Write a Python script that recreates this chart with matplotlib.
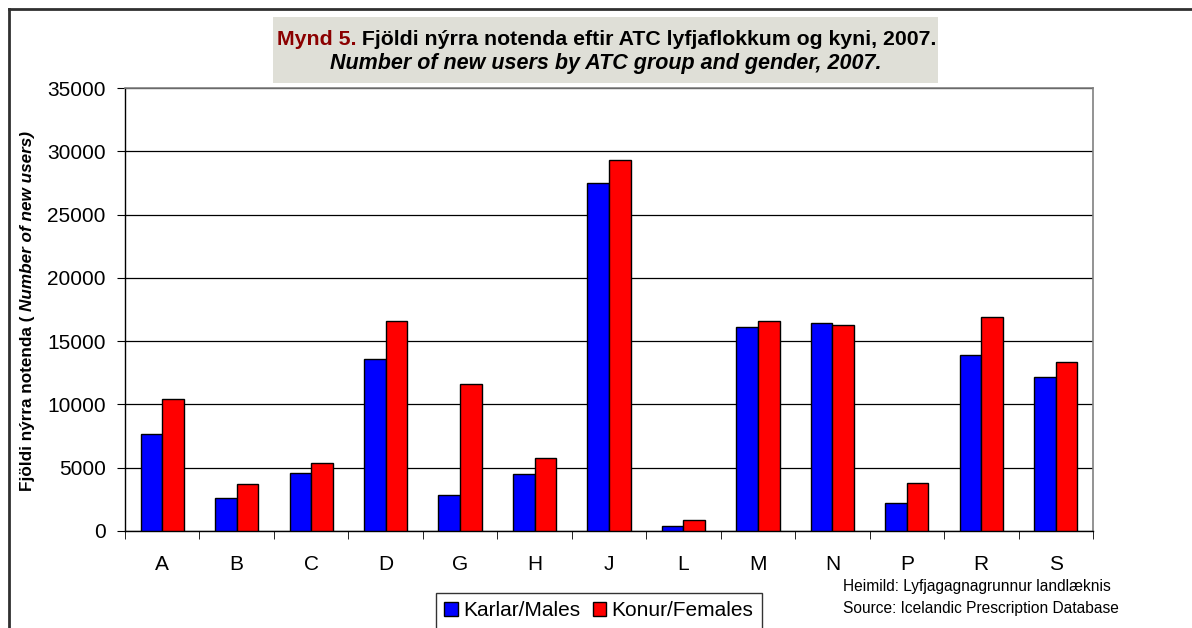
import numpy as np
import matplotlib
matplotlib.use('Agg')
import matplotlib.pyplot as plt
from matplotlib.patches import Rectangle
from matplotlib.lines import Line2D

plt.rcParams['font.family'] = ['Liberation Sans', 'DejaVu Sans']

# Data
groups = ['A', 'B', 'C', 'D', 'G', 'H', 'J', 'L', 'M', 'N', 'P', 'R', 'S']
males = [7680, 2600, 4600, 13600, 2820, 4520, 27500, 400, 16090, 16410, 2210, 13930, 12170]
females = [10430, 3690, 5350, 16580, 11590, 5770, 29320, 870, 16600, 16300, 3820, 16940, 13350]
y_ticks = [0, 5000, 10000, 15000, 20000, 25000, 30000, 35000]

W, H = 1192, 628
fig = plt.figure(figsize=(W / 100, H / 100), dpi=100)

# axes placed in pixel terms of the reference
left, right, top, bottom = 125, 1093, 88, 531
ax = fig.add_axes([left / W, 1 - bottom / H, (right - left) / W, (bottom - top) / H])

x = np.arange(len(groups))
bw = 0.29
ax.bar(x - bw / 2, males, bw, color='#0000FF', edgecolor='black', linewidth=1, label='Karlar/Males', zorder=3)
ax.bar(x + bw / 2, females, bw, color='#FF0000', edgecolor='black', linewidth=1, label='Konur/Females', zorder=3)

ax.set_xlim(-0.5, len(groups) - 0.5)
ax.set_ylim(0, 35000)
ax.set_yticks(y_ticks)
ax.set_yticklabels([str(v) for v in y_ticks], fontsize=15)
ax.yaxis.grid(True, color='black', linewidth=0.9, zorder=0)
ax.set_axisbelow(True)

ax.set_xticks(x)
ax.set_xticklabels(groups, fontsize=15)
ax.set_xticks(np.arange(-0.5, len(groups)), minor=True)
ax.tick_params(axis='x', which='major', length=0, pad=17)
ax.tick_params(axis='x', which='minor', length=6, direction='out', color='black')
ax.tick_params(axis='y', length=6, direction='out', pad=8, color='black')

for s in ['left', 'bottom']:
    ax.spines[s].set_color('black')
    ax.spines[s].set_linewidth(1)
for s in ['top', 'right']:
    ax.spines[s].set_color('#808080')
    ax.spines[s].set_linewidth(1.2)

# y label: bold part + bold italic part
yl1 = fig.text(28 / W, 1 - 491 / H, 'Fjöldi nýrra notenda ( ', rotation=90,
               ha='center', va='bottom', fontsize=12.3, fontweight='bold')
ax.annotate('Number of new users)', xy=(0.5, 1), xycoords=yl1, rotation=90,
            ha='center', va='bottom', fontsize=12.3, fontweight='bold', style='italic',
            annotation_clip=False)

# title box (behind everything)
fig.patches.append(Rectangle((273 / W, 1 - 83 / H), (938 - 273) / W, (83 - 17) / H,
                             transform=fig.transFigure, facecolor='#dfdfd7',
                             edgecolor='none', zorder=-1))
t1 = fig.text(277 / W, 1 - 45 / H, 'Mynd 5.', color='#8b0000', fontsize=15.3,
              fontweight='bold', ha='left', va='baseline')
ax.annotate(' Fjöldi nýrra notenda eftir ATC lyfjaflokkum og kyni, 2007.', xy=(1, 0),
            xycoords=t1, ha='left', va='bottom', fontsize=15.3, fontweight='bold',
            annotation_clip=False)
fig.text(606 / W, 1 - 69 / H, 'Number of new users by ATC group and gender, 2007.',
         fontsize=15.5, fontweight='bold', style='italic', ha='center', va='baseline')

# source note
fig.text(843 / W, 1 - 587 / H, 'Heimild: Lyfjagagnagrunnur landlæknis', fontsize=11.2,
         ha='left', va='center')
fig.text(843 / W, 1 - 608 / H, 'Source: Icelandic Prescription Database', fontsize=11.2,
         ha='left', va='center')

# legend
leg = fig.legend(loc='upper left', bbox_to_anchor=(436 / W, 1 - 593 / H), ncol=2,
                 fontsize=15, frameon=True, fancybox=False, handlelength=0.65,
                 handleheight=0.65, handletextpad=0.25, columnspacing=0.6,
                 borderpad=0.4, borderaxespad=0)
leg.get_frame().set_edgecolor('black')
leg.get_frame().set_linewidth(1)

# outer chart border (cropped on right and bottom)
fig.add_artist(Line2D([9 / W, 1], [1 - 9 / H, 1 - 9 / H], color='#303030', linewidth=2,
                      transform=fig.transFigure))
fig.add_artist(Line2D([9 / W, 9 / W], [0, 1 - 9 / H], color='#303030', linewidth=2,
                      transform=fig.transFigure))

fig.savefig('out.png', dpi=100)
